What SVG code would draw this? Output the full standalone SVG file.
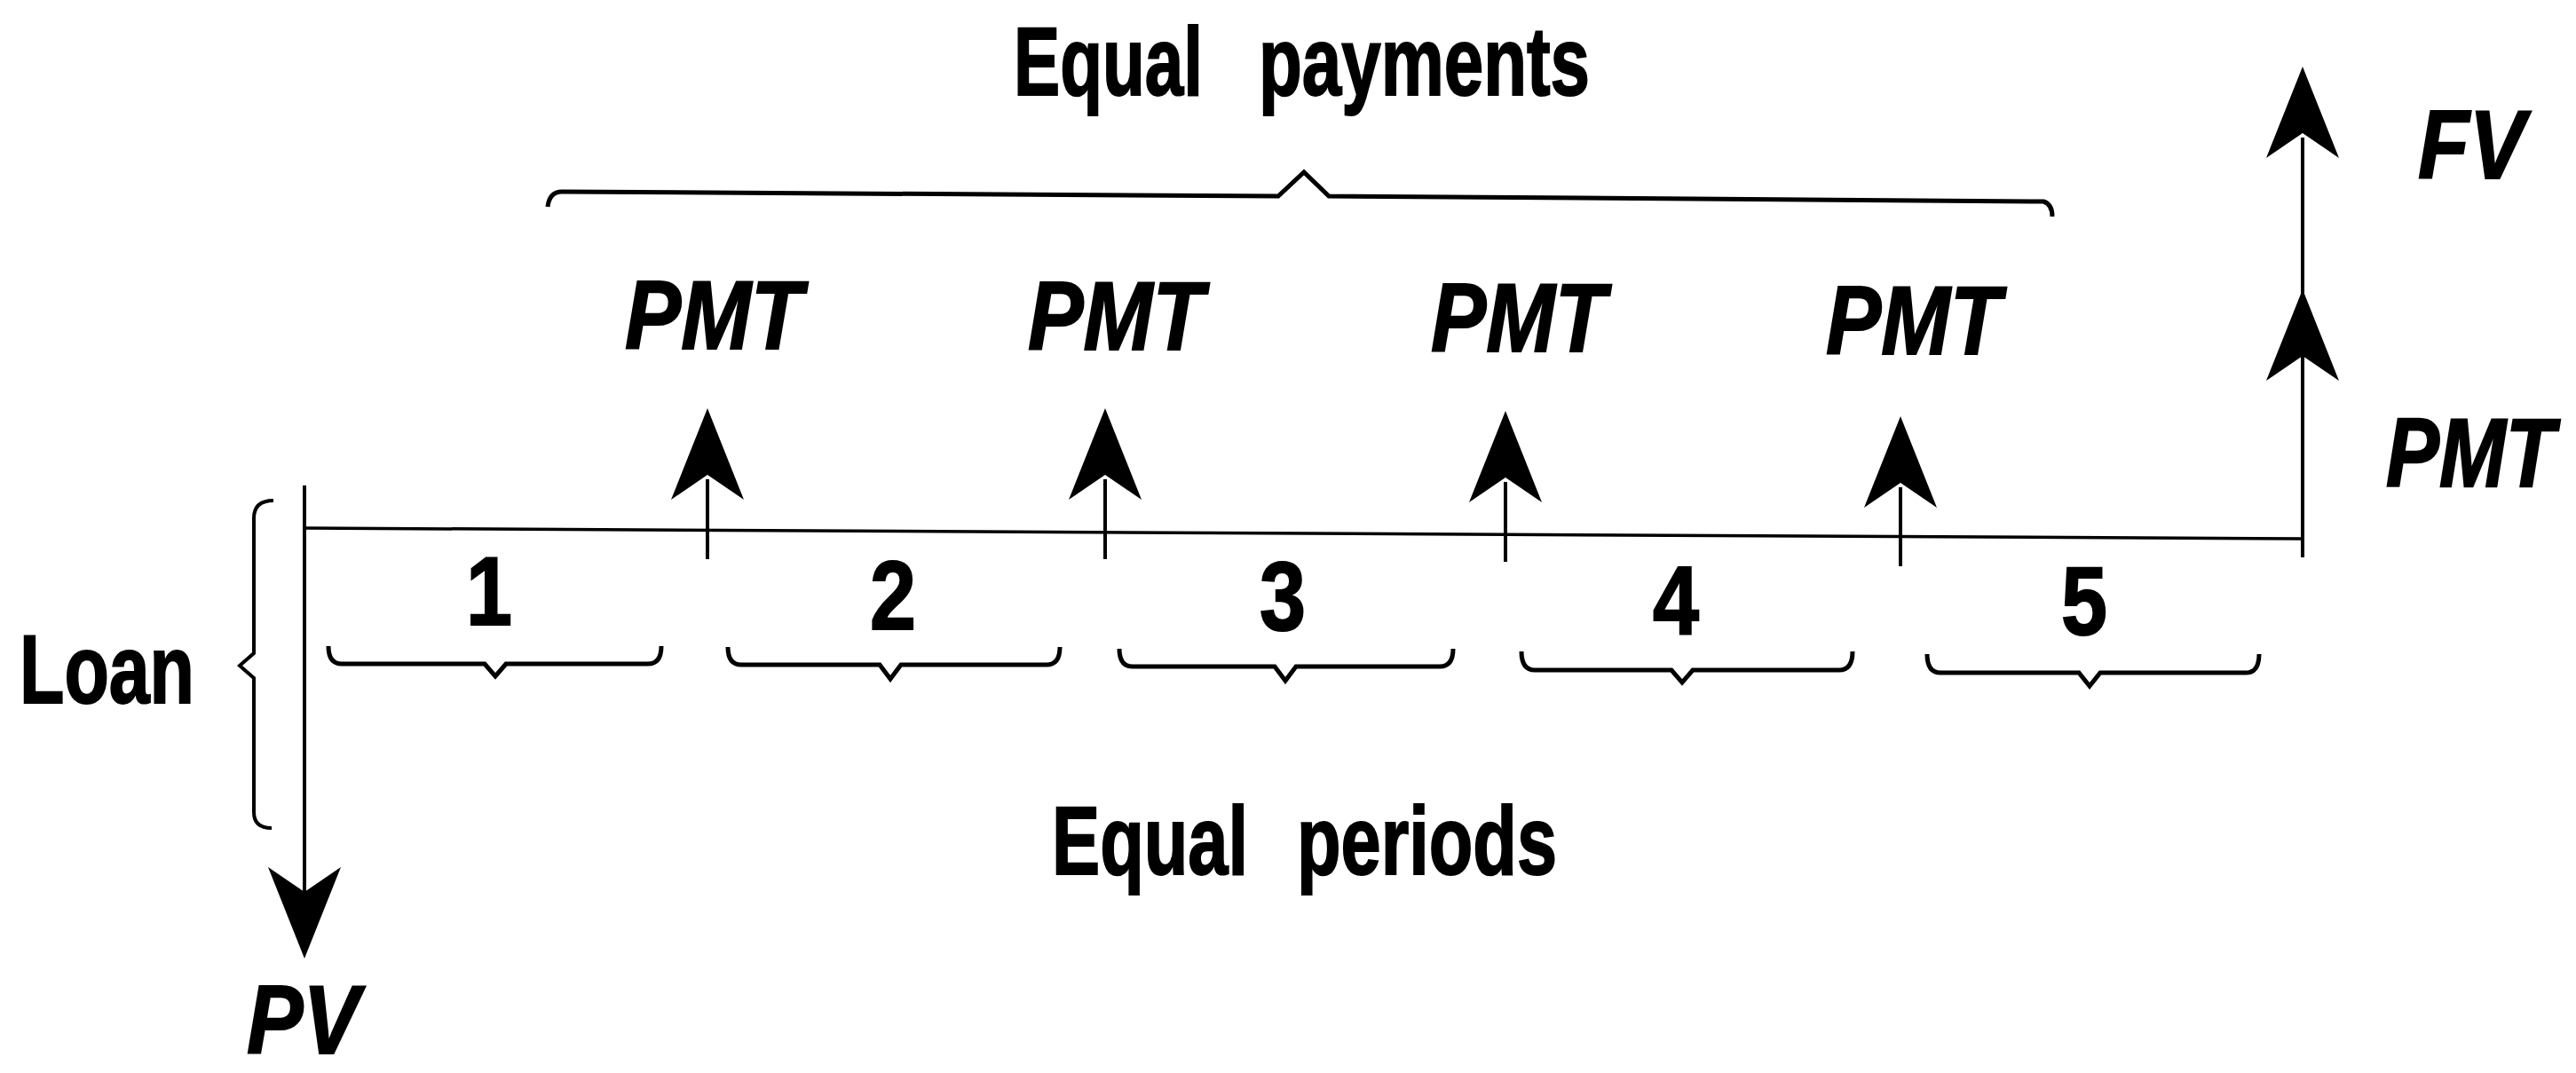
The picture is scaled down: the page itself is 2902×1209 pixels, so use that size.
<svg xmlns="http://www.w3.org/2000/svg" xmlns:xlink="http://www.w3.org/1999/xlink" width="2902" height="1209" viewBox="0 0 2902 1209">
<style>
.t{font-family:"Liberation Sans",Arial,sans-serif;font-weight:bold;font-size:110px;fill:#000;stroke:#000;stroke-width:2}
.i{font-style:italic}
.ln{stroke:#000;stroke-width:4;fill:none}
.br{stroke:#000;stroke-width:5;fill:none;stroke-linejoin:miter}
.ah{fill:#000}
</style>
<defs>
<path id="ah" d="M0,0 L41,103 L0,75 L-41,103 Z"/>
</defs>
<rect width="2902" height="1209" fill="#fff"/>
<g id="connectors">
<line id="timeline" class="ln" x1="344" y1="595" x2="2594" y2="607" style="stroke-width:3.5"/>
<g id="pv-arrow"><line class="ln" x1="343" y1="547" x2="343" y2="1010"/><use href="#ah" class="ah" transform="translate(343,1080) rotate(180)"/></g>
<g id="pmt1-arrow"><line class="ln" x1="797" y1="630" x2="797" y2="540"/><use href="#ah" class="ah" transform="translate(797,460)"/></g>
<g id="pmt2-arrow"><line class="ln" x1="1245" y1="630" x2="1245" y2="540"/><use href="#ah" class="ah" transform="translate(1245,460)"/></g>
<g id="pmt3-arrow"><line class="ln" x1="1696" y1="633" x2="1696" y2="543"/><use href="#ah" class="ah" transform="translate(1696,463)"/></g>
<g id="pmt4-arrow"><line class="ln" x1="2141" y1="638" x2="2141" y2="549"/><use href="#ah" class="ah" transform="translate(2141,469)"/></g>
<g id="fv-arrow"><line class="ln" x1="2594" y1="628" x2="2594" y2="155"/><use href="#ah" class="ah" transform="translate(2594,326)"/><use href="#ah" class="ah" transform="translate(2594,75)"/></g>
</g>
<g id="payments-brace"><path class="br" d="M617,233 Q619,216 633,216 L1440,221 L1469,194 L1497,221 L2302,227 Q2312,230 2312,244"/></g>
<g id="loan-brace"><path class="br" style="stroke-width:4" d="M308,564 Q286,564 286,584 L286,736 L270,750 L286,764 L286,915 Q286,933 306,933"/></g>
<g id="period-braces">
<path id="brace1" class="br" d="M370,728 Q370,748 385,748 L546,748 L558,762 L570,748 L730,748 Q745,748 745,728"/>
<path id="brace2" class="br" d="M820,729 Q820,749 835,749 L991,749 L1003,765 L1015,749 L1179,749 Q1194,749 1194,729"/>
<path id="brace3" class="br" d="M1261,731 Q1261,751 1276,751 L1436,751 L1448,767 L1460,751 L1622,751 Q1637,751 1637,731"/>
<path id="brace4" class="br" d="M1714,734 Q1714,755 1729,755 L1883,755 L1895,769 L1907,755 L2072,755 Q2087,755 2087,734"/>
<path id="brace5" class="br" d="M2171,737 Q2171,758 2186,758 L2342,758 L2354,773 L2366,758 L2530,758 Q2545,758 2545,737"/>
</g>
<g id="label-equal-payments"><text class="t" y="107"><tspan x="1142" textLength="213" lengthAdjust="spacingAndGlyphs">Equal</tspan> <tspan x="1418" textLength="373" lengthAdjust="spacingAndGlyphs">payments</tspan></text></g>
<g id="label-equal-periods"><text class="t" y="985"><tspan x="1185" textLength="221" lengthAdjust="spacingAndGlyphs">Equal</tspan> <tspan x="1461" textLength="293" lengthAdjust="spacingAndGlyphs">periods</tspan></text></g>
<g id="label-loan"><text class="t" x="22" y="792" textLength="197" lengthAdjust="spacingAndGlyphs">Loan</text></g>
<g id="label-pv"><text class="t i" x="278" y="1187" textLength="127" lengthAdjust="spacingAndGlyphs">PV</text></g>
<g id="label-fv"><text class="t i" x="2724" y="201" textLength="121" lengthAdjust="spacingAndGlyphs">FV</text></g>
<g id="label-pmt1"><text class="t i" x="704" y="393" textLength="200" lengthAdjust="spacingAndGlyphs">PMT</text></g>
<g id="label-pmt2"><text class="t i" x="1158" y="394" textLength="198" lengthAdjust="spacingAndGlyphs">PMT</text></g>
<g id="label-pmt3"><text class="t i" x="1612" y="396" textLength="197" lengthAdjust="spacingAndGlyphs">PMT</text></g>
<g id="label-pmt4"><text class="t i" x="2057" y="399" textLength="197" lengthAdjust="spacingAndGlyphs">PMT</text></g>
<g id="label-pmt5"><text class="t i" transform="translate(2688,548) scale(1,1.25)" x="0" y="0" style="font-size:88px;stroke-width:1.8" textLength="190" lengthAdjust="spacingAndGlyphs">PMT</text></g>
<g id="period-labels">
<text class="t" x="551" y="704" text-anchor="middle" textLength="52" lengthAdjust="spacingAndGlyphs">1</text>
<text class="t" x="1006" y="709" text-anchor="middle" textLength="52" lengthAdjust="spacingAndGlyphs">2</text>
<text class="t" x="1445" y="710" text-anchor="middle" textLength="52" lengthAdjust="spacingAndGlyphs">3</text>
<text class="t" x="1888" y="714" text-anchor="middle" textLength="52" lengthAdjust="spacingAndGlyphs">4</text>
<text class="t" x="2348" y="715" text-anchor="middle" textLength="52" lengthAdjust="spacingAndGlyphs">5</text>
</g>
</svg>
